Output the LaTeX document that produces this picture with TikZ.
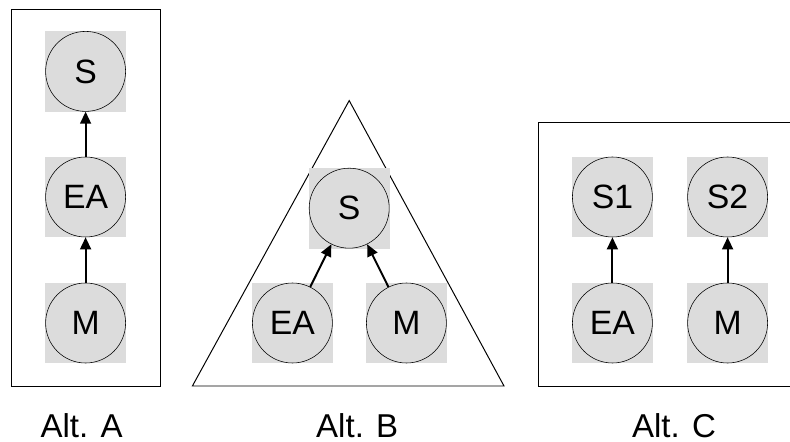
\documentclass[tikz,border=0pt]{standalone}
\usepackage{fontspec}
\setmainfont{Liberation Sans}
\usetikzlibrary{arrows.meta,backgrounds,calc}
\definecolor{nodegray}{RGB}{220,220,220}
\tikzstyle{var} = [circle, draw, thin, fill=nodegray, minimum size=2cm, inner sep=0pt, font=\fontsize{24}{28}\selectfont]
\tikzstyle{link} = [line width=1.4pt, -{Triangle[length=0.3cm, width=0.27cm]}]
\tikzstyle{frame} = [line width=0.7pt]
\tikzstyle{alt} = [anchor=base, inner sep=0pt, font=\fontsize{23.5}{28}\selectfont]

\begin{document}
\begin{tikzpicture}
\useasboundingbox (0,0) rectangle (19.75,11.025);
% outlines of the three variants
\begin{scope}[on background layer]
\draw[frame] (0.275,1.375) rectangle (4.0125,10.8);
\draw[frame] (4.81,1.375) -- (8.73,8.51) -- (12.6,1.375) -- cycle;
\draw[frame] (19.9,1.375) -- (13.46,1.375) -- (13.46,7.96) -- (19.9,7.96);
\end{scope}
% Alt. A
\draw (2.14,9.24) node (aS) [var] {S};
\draw (2.14,6.1) node (aEA) [var] {EA};
\draw (2.14,2.95) node (aM) [var] {M};
\draw[link] (aEA)--(aS);
\draw[link] (aM)--(aEA);
% Alt. B
\draw (8.73,5.82) node (bS) [var] {S};
\draw (7.31,2.95) node (bEA) [var] {EA};
\draw (10.16,2.95) node (bM) [var] {M};
\draw[link] (bEA)--(bS);
\draw[link] (bM)--(bS);
% Alt. C
\draw (15.31,6.1) node (cS1) [var] {S1};
\draw (18.19,6.1) node (cS2) [var] {S2};
\draw (15.31,2.95) node (cEA) [var] {EA};
\draw (18.19,2.95) node (cM) [var] {M};
\draw[link] (cEA)--(cS1);
\draw[link] (cM)--(cS2);
% grey squares behind the circles
\begin{scope}[on background layer]
\foreach \n in {aS,aEA,aM,bS,bEA,bM,cS1,cS2,cEA,cM}
  \fill[nodegray] ($(\n)+(-1.01,-1.01)$) rectangle ($(\n)+(1.01,1.01)$);
\end{scope}
\node (altA) [alt] at (2.04,0.1) {Alt. A};
\node (altB) [alt] at (8.93,0.1) {Alt. B};
\node (altC) [alt] at (16.85,0.1) {Alt. C};
\end{tikzpicture}
\end{document}
